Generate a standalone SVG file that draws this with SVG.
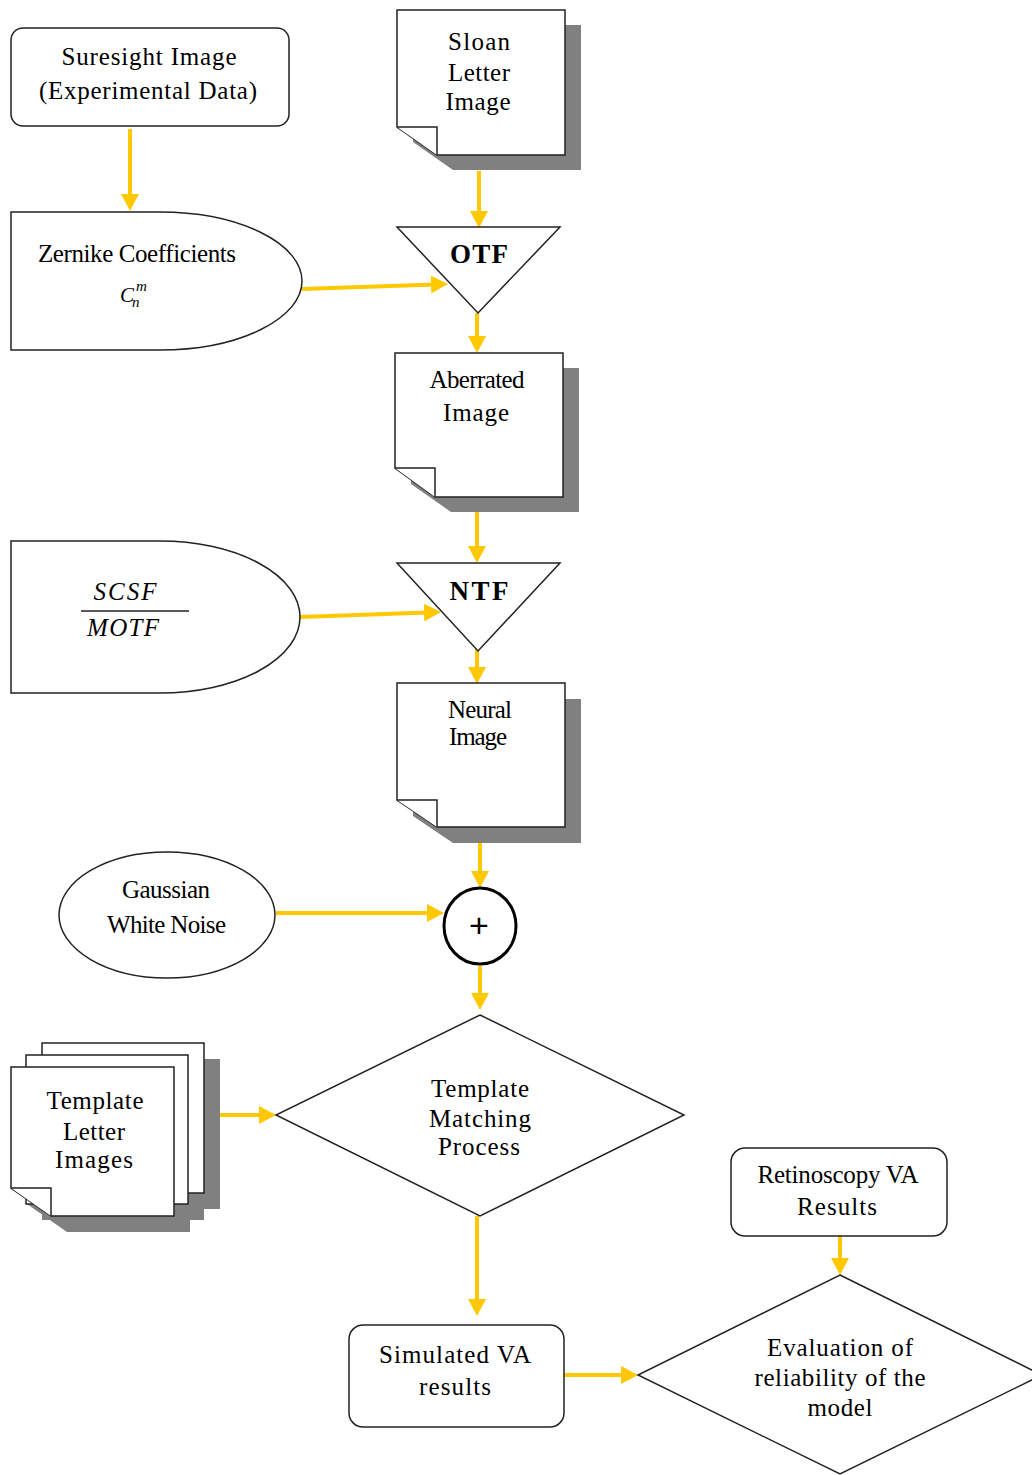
<svg xmlns="http://www.w3.org/2000/svg" width="1032" height="1475" viewBox="0 0 1032 1475">
<defs>
<style>
.shape{fill:#fff;stroke:#222;stroke-width:1.5}
.shadow{fill:#808080;stroke:none}
.t{font-family:"Liberation Serif","Times New Roman",serif;font-size:25px;fill:#000;text-anchor:middle}
.b{font-family:"Liberation Serif","Times New Roman",serif;font-size:27px;font-weight:bold;fill:#000;text-anchor:middle}
.i{font-family:"Liberation Serif","Times New Roman",serif;font-style:italic;fill:#000}
.conn{stroke:#FFC800;stroke-width:4;fill:none;marker-end:url(#ah)}
</style>
<marker id="ah" viewBox="0 0 17 18" markerUnits="userSpaceOnUse" markerWidth="17" markerHeight="18" refX="4" refY="9" orient="auto">
<path d="M0,0 L17,9 L0,18 Z" fill="#FFC800"/>
</marker>
</defs>
<rect x="0" y="0" width="1032" height="1475" fill="#fff"/>

<g id="connectors">
<line class="conn" x1="130" y1="129" x2="130" y2="198"/>
<line class="conn" x1="479" y1="171" x2="479" y2="215"/>
<line class="conn" x1="302" y1="289" x2="435" y2="284.4"/>
<line class="conn" x1="477" y1="313" x2="477" y2="340"/>
<line class="conn" x1="477" y1="512" x2="477" y2="550"/>
<line class="conn" x1="300" y1="617" x2="428" y2="612.4"/>
<line class="conn" x1="477" y1="637" x2="477" y2="671"/>
<line class="conn" x1="480" y1="843" x2="480" y2="875"/>
<line class="conn" x1="276" y1="913" x2="431" y2="913"/>
<line class="conn" x1="480" y1="966" x2="480" y2="997"/>
<line class="conn" x1="220" y1="1115" x2="263" y2="1115"/>
<line class="conn" x1="477" y1="1216" x2="477" y2="1303"/>
<line class="conn" x1="840" y1="1236" x2="840" y2="1262"/>
<line class="conn" x1="564" y1="1375" x2="625" y2="1375"/>
</g>

<g id="suresight">
<rect class="shape" x="11" y="28" width="278" height="98" rx="12"/>
<text class="t" x="149" y="65" textLength="175">Suresight Image</text>
<text class="t" x="148" y="99" textLength="218">(Experimental Data)</text>
</g>

<g id="sloan">
<polygon class="shadow" points="413,25 581,25 581,170 453,170 413,142"/>
<polygon class="shape" points="397,10 565,10 565,155 437,155 397,127"/>
<polyline class="shape" points="397,127 437,127 437,155"/>
<text class="t" x="479" y="50" textLength="62">Sloan</text>
<text class="t" x="479" y="81" textLength="62">Letter</text>
<text class="t" x="478" y="110" textLength="65">Image</text>
</g>

<g id="zernike">
<path class="shape" d="M11,212 H160 A142,69 0 0 1 160,350 H11 Z"/>
<text class="t" x="137" y="262" textLength="198">Zernike Coefficients</text>
<text class="i" x="120" y="302" font-size="21">C</text>
<text class="i" x="136" y="291" font-size="15">m</text>
<text class="i" x="132" y="307" font-size="15">n</text>
</g>

<g id="otf">
<polygon class="shape" points="397,227 560,227 478,313"/>
<text class="b" x="479" y="263" textLength="58">OTF</text>
</g>

<g id="aberrated">
<polygon class="shadow" points="411,368 579,368 579,512 451,512 411,484"/>
<polygon class="shape" points="395,353 563,353 563,497 435,497 395,468"/>
<polyline class="shape" points="395,468 435,468 435,497"/>
<text class="t" x="477" y="388" textLength="95">Aberrated</text>
<text class="t" x="476" y="421" textLength="66">Image</text>
</g>

<g id="scsf">
<path class="shape" d="M11,541 H160 A140,76 0 0 1 160,693 H11 Z"/>
<text class="i" x="125" y="600" font-size="25" text-anchor="middle" textLength="63">SCSF</text>
<line x1="81" y1="611" x2="189" y2="611" stroke="#222" stroke-width="1.5"/>
<text class="i" x="123" y="636" font-size="25" text-anchor="middle" textLength="72">MOTF</text>
</g>

<g id="ntf">
<polygon class="shape" points="397,563 560,563 478,651"/>
<text class="b" x="479" y="600" textLength="59">NTF</text>
</g>

<g id="neural">
<polygon class="shadow" points="413,699 581,699 581,843 453,843 413,816"/>
<polygon class="shape" points="397,683 565,683 565,827 437,827 397,800"/>
<polyline class="shape" points="397,800 437,800 437,827"/>
<text class="t" x="480" y="718" textLength="64">Neural</text>
<text class="t" x="478" y="745" textLength="58">Image</text>
</g>

<g id="gaussian">
<ellipse class="shape" cx="167" cy="915" rx="108" ry="63"/>
<text class="t" x="166" y="898" textLength="88">Gaussian</text>
<text class="t" x="166.5" y="933" textLength="119">White Noise</text>
</g>

<g id="sum">
<ellipse cx="480" cy="926" rx="36" ry="38" fill="#fff" stroke="#000" stroke-width="3"/>
<text x="479" y="937" font-family="Liberation Sans, Arial, sans-serif" font-size="34" text-anchor="middle" fill="#000">+</text>
</g>

<g id="templates">
<rect class="shadow" x="58" y="1059" width="162" height="150"/>
<rect class="shadow" x="42" y="1071" width="162" height="149"/>
<polygon class="shadow" points="27,1083 190,1083 190,1232 67,1232 27,1204"/>
<rect class="shape" x="42" y="1043" width="162" height="150"/>
<rect class="shape" x="26" y="1055" width="162" height="149"/>
<polygon class="shape" points="11,1067 174,1067 174,1216 51,1216 11,1188"/>
<polyline class="shape" points="11,1188 51,1188 51,1216"/>
<text class="t" x="95" y="1109" textLength="97">Template</text>
<text class="t" x="94" y="1140" textLength="62">Letter</text>
<text class="t" x="94" y="1168" textLength="78">Images</text>
</g>

<g id="matching">
<polygon class="shape" points="480,1015 684,1115 480,1216 276,1115"/>
<text class="t" x="480" y="1097" textLength="98">Template</text>
<text class="t" x="480" y="1127" textLength="102">Matching</text>
<text class="t" x="479" y="1155" textLength="82">Process</text>
</g>

<g id="retinoscopy">
<rect class="shape" x="731" y="1148" width="216" height="88" rx="14"/>
<text class="t" x="838" y="1183" textLength="161">Retinoscopy VA</text>
<text class="t" x="837" y="1215" textLength="80">Results</text>
</g>

<g id="simulated">
<rect class="shape" x="349" y="1325" width="215" height="102" rx="14"/>
<text class="t" x="455" y="1363" textLength="152">Simulated VA</text>
<text class="t" x="455" y="1395" textLength="72">results</text>
</g>

<g id="evaluation">
<polygon class="shape" points="840,1275 1042,1375 840,1474 638,1375"/>
<text class="t" x="840" y="1356" textLength="146">Evaluation of</text>
<text class="t" x="840" y="1386" textLength="171">reliability of the</text>
<text class="t" x="840" y="1416" textLength="65">model</text>
</g>
</svg>
